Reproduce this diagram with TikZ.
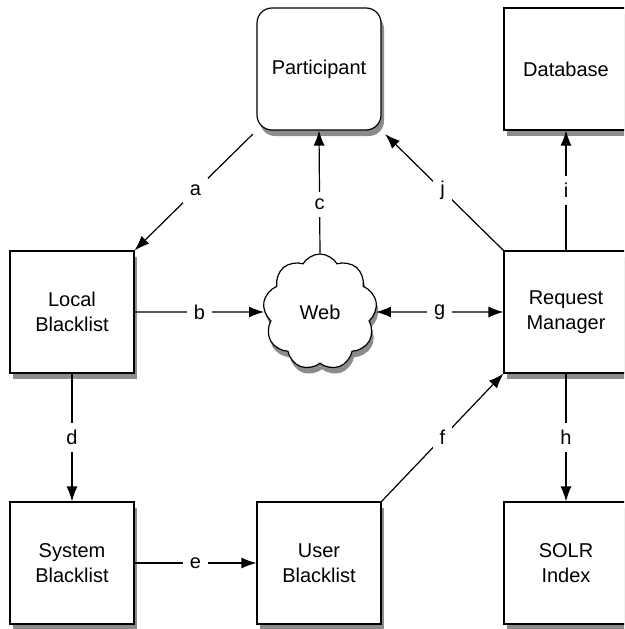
\documentclass[tikz,border=0pt]{standalone}
\usepackage{fontspec}
\setmainfont{Liberation Sans}
\usetikzlibrary{positioning}
\usetikzlibrary{arrows.meta}
\usetikzlibrary{shapes.symbols}
\definecolor{shadowgrey}{RGB}{140,140,140}
\tikzset {
  % boxes of the diagram
  block/.style = {draw, fill=white, line width=1.2pt, minimum width=124pt, minimum height=122pt,
    align=center, font=\fontsize{20}{25}\selectfont},
  person/.style = {block, rounded corners=15pt},
  % the web cloud
  web/.style = {draw, cloud, cloud puffs=9, cloud puff arc=120, aspect=1, fill=white,
    line width=1.2pt, minimum width=114pt, minimum height=116pt, font=\fontsize{20}{25}\selectfont},
  % grey shadow below a box
  boxshadow/.style = {fill=shadowgrey, draw=none},
  % connectors and their letters
  flow/.style = {-{Latex[length=15pt,width=11pt]}, line width=1.2pt},
  both/.style = {{Latex[length=15pt,width=11pt]}-{Latex[length=15pt,width=11pt]}, line width=1.2pt},
  lbl/.style = {midway, fill=white, inner sep=7pt, font=\fontsize{20}{25}\selectfont},
}
\begin{document}
\begin{tikzpicture}[x=1pt, y=-1pt]
  \useasboundingbox (0,0) rectangle (624,629);
  \clip (0,0) rectangle (624,629);

  % shadows
  \foreach \cx/\cy in {566/69, 72/312, 566/312, 72/563, 319/563, 566/563}
    \fill[boxshadow] (\cx-59, \cy-55) rectangle (\cx+65, \cy+67);
  \fill[boxshadow, rounded corners=15pt] (260,14) rectangle (384,136);
  \node[web, boxshadow] (webshadow) at (322,318) {};

  \node[person] (part) at (319,69) {Participant};
  \node[block] (db) at (566,69) {Database};
  \node[block] (local) at (72,312) {Local\\Blacklist};
  \node[web] (web) at (320,312) {Web};
  \node[block] (rm) at (566,312) {Request\\Manager};
  \node[block] (sys) at (72,563) {System\\Blacklist};
  \node[block] (user) at (319,563) {User\\Blacklist};
  \node[block] (solr) at (566,563) {SOLR\\Index};

  \draw [flow, shorten <=5pt] (part.south west) -- node[lbl] {a} (local.north east);
  \draw [flow] (local) -- node[lbl] {b} (web);
  \draw [flow] (web.north) -- node[lbl, pos=0.4] {c} (part.south);
  \draw [flow] (local) -- node[lbl] {d} (sys);
  \draw [flow] (sys) -- node[lbl] {e} (user);
  \draw [flow] (user.north east) -- node[lbl] {f} (rm.south west);
  \draw [both] (web) -- node[lbl] {g} (rm);
  \draw [flow] (rm) -- node[lbl] {h} (solr);
  \draw [flow] (rm) -- node[lbl] {i} (db);
  \draw [flow, shorten >=5pt] (rm.north west) -- node[lbl] {j} (part.south east);
\end{tikzpicture}
\end{document}
